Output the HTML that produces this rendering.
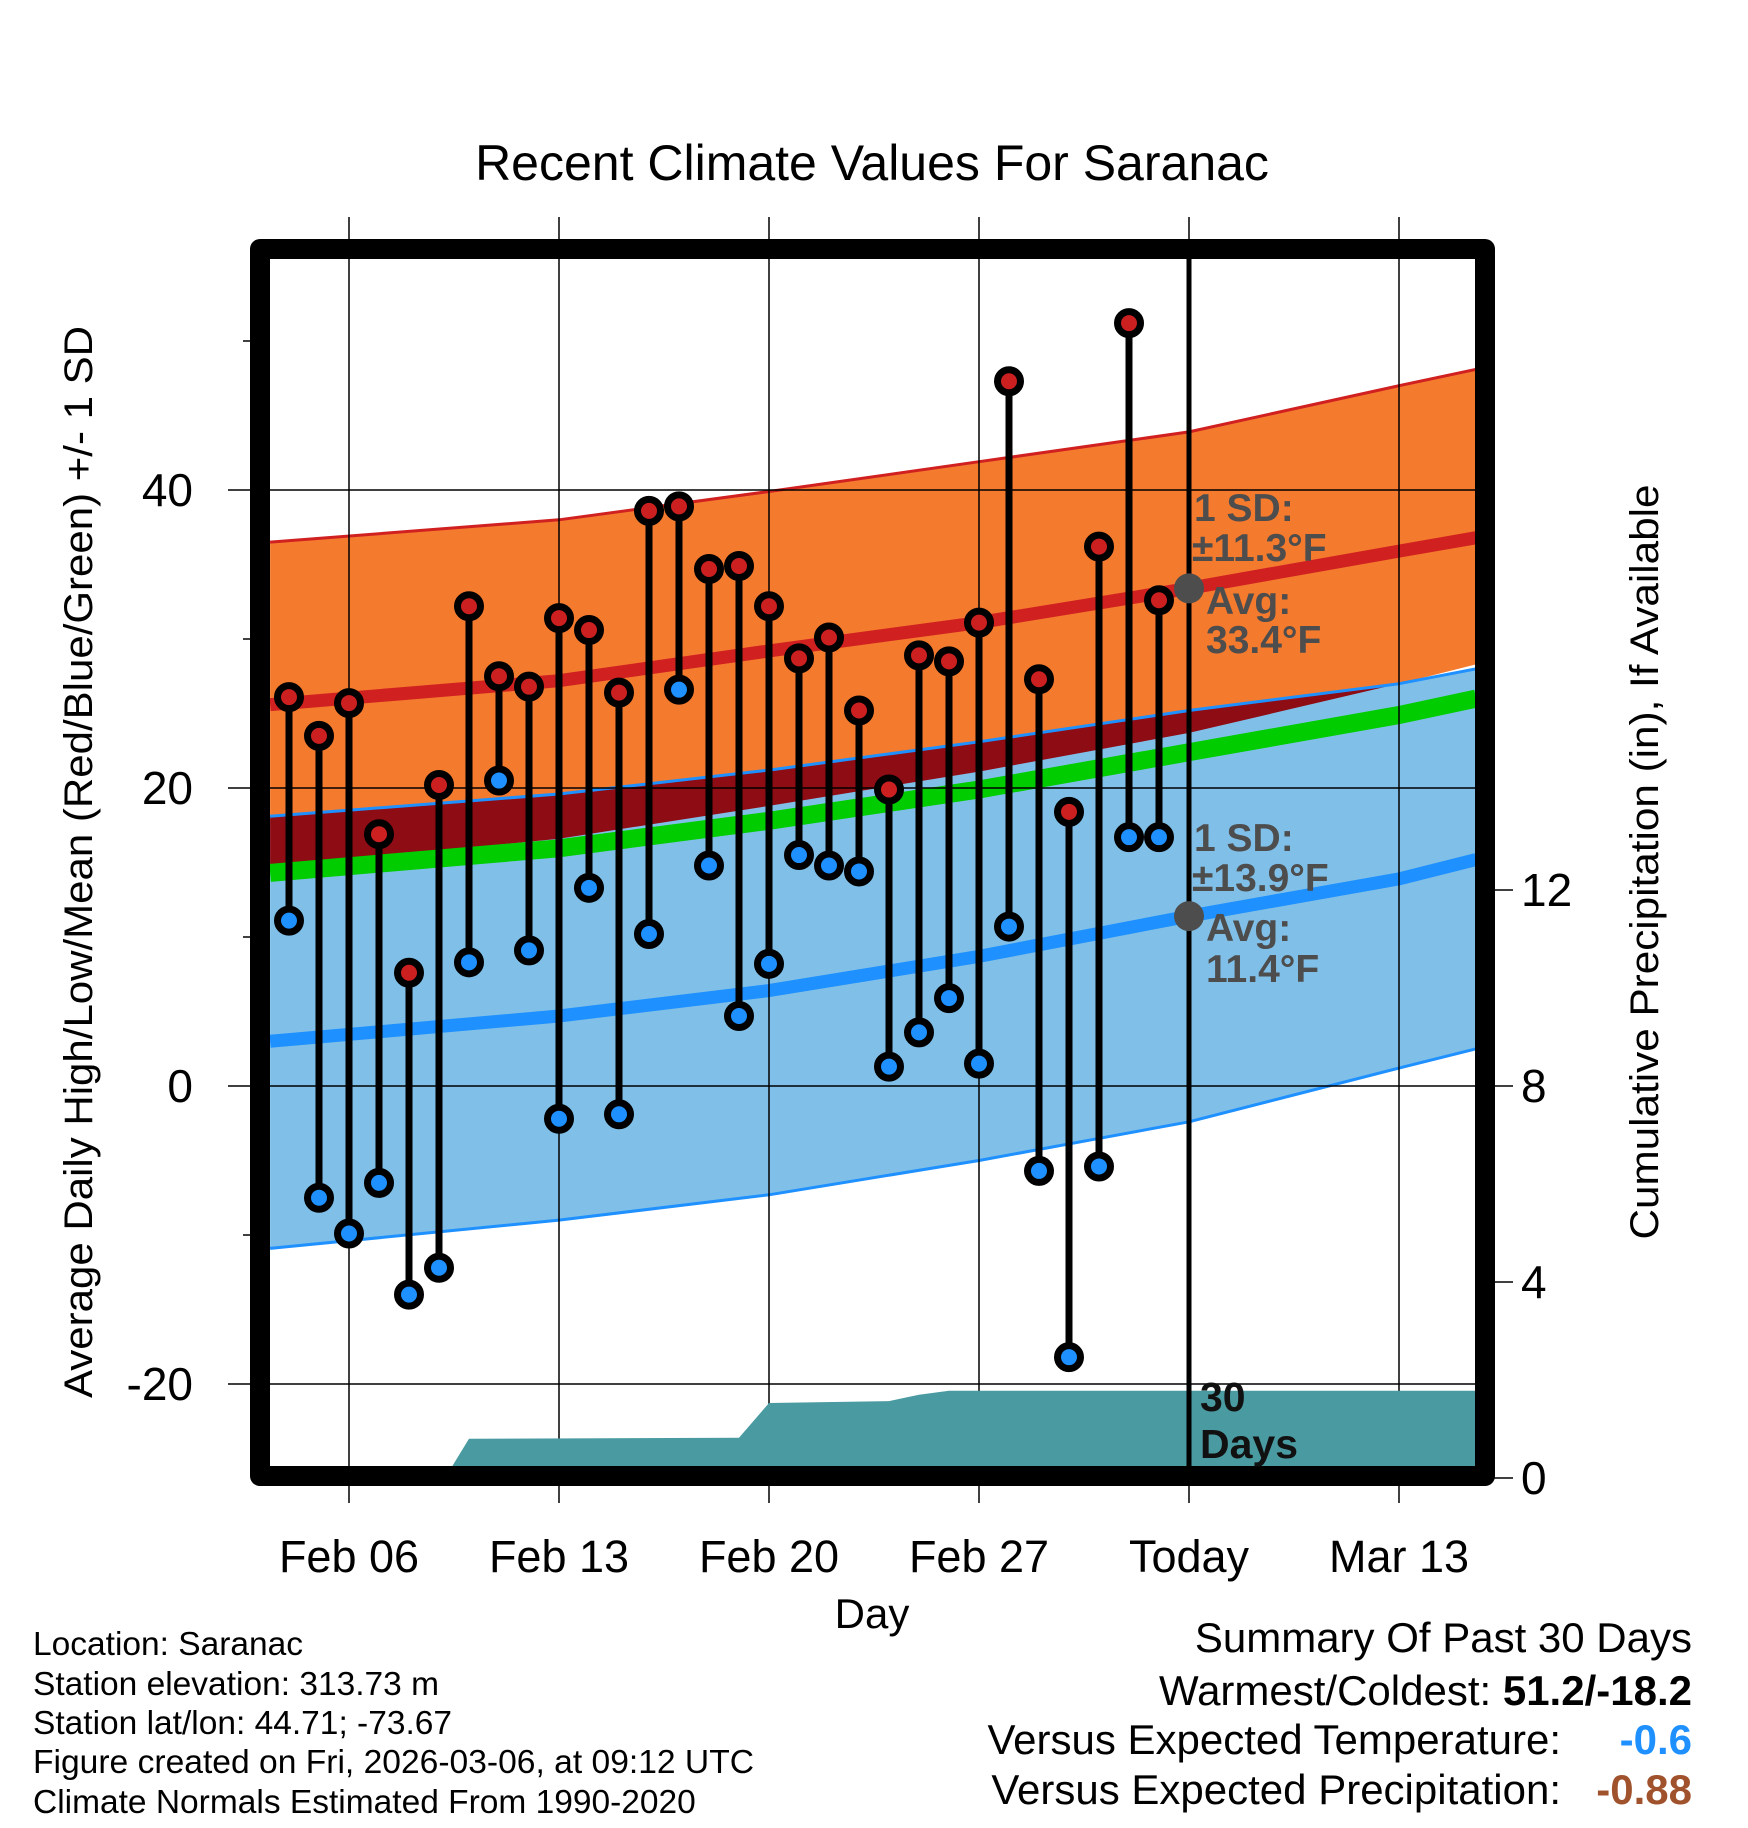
<!DOCTYPE html>
<html><head><meta charset="utf-8"><style>
html,body{margin:0;padding:0;background:#fff}
svg{display:block;font-family:"Liberation Sans",sans-serif}
</style></head><body>
<svg id="chart" width="1748" height="1828" viewBox="0 0 1748 1828">
<defs><clipPath id="plotclip"><rect x="270" y="259" width="1206" height="1208"/></clipPath></defs>
<text x="872" y="180" font-size="50" text-anchor="middle">Recent Climate Values For Saranac</text>
<g id="normals" clip-path="url(#plotclip)"></g>
<g id="grid"></g>
<g id="precip" clip-path="url(#plotclip)"></g>
<g id="marks"></g>
<rect x="260" y="249" width="1225" height="1227" fill="none" stroke="#000" stroke-width="20" stroke-linejoin="round"/>
<g id="axes"></g>
<g font-weight="bold" font-size="39" fill="#4d4d4d">
<text x="1194" y="521">1 SD:</text><text x="1192" y="561">±11.3°F</text>
<text x="1206" y="614">Avg:</text><text x="1206" y="653">33.4°F</text></g>
<g font-weight="bold" font-size="39" fill="#4d4d4d">
<text x="1194" y="851">1 SD:</text><text x="1192" y="891">±13.9°F</text>
<text x="1206" y="941">Avg:</text><text x="1206" y="982">11.4°F</text></g>
<g font-weight="bold" font-size="41" fill="#111">
<text x="1200" y="1411">30</text><text x="1200" y="1458">Days</text></g>
<text x="872" y="1628" font-size="42" text-anchor="middle">Day</text>
<text transform="translate(92,862) rotate(-90)" font-size="40" text-anchor="middle" textLength="1072" lengthAdjust="spacingAndGlyphs">Average Daily High/Low/Mean (Red/Blue/Green) +/- 1 SD</text>
<text transform="translate(1658,862) rotate(-90)" font-size="40" text-anchor="middle" textLength="755" lengthAdjust="spacingAndGlyphs">Cumulative Precipitation (in), If Available</text>
<g font-size="33.5">
<text x="33" y="1655">Location: Saranac</text>
<text x="33" y="1695">Station elevation: 313.73 m</text>
<text x="33" y="1734">Station lat/lon: 44.71; -73.67</text>
<text x="33" y="1773" textLength="721" lengthAdjust="spacingAndGlyphs">Figure created on Fri, 2026-03-06, at 09:12 UTC</text>
<text x="33" y="1813">Climate Normals Estimated From 1990-2020</text></g>
<g font-size="42" text-anchor="end">
<text x="1692" y="1652">Summary Of Past 30 Days</text>
<text x="1692" y="1705">Warmest/Coldest: <tspan font-weight="bold">51.2/-18.2</tspan></text>
<text x="1561" y="1754">Versus Expected Temperature:</text>
<text x="1692" y="1754" font-weight="bold" fill="#1e90ff">-0.6</text>
<text x="1561" y="1804">Versus Expected Precipitation:</text>
<text x="1692" y="1804" font-weight="bold" fill="#a0522d">-0.88</text></g>
</svg>
<script>
// day offsets relative to Feb 06
const normDays=[-2.63,7,14,21,28,35,37.57];
const highUpper=[36.5,38.0,39.9,41.9,43.9,47.0,48.1];
const highAvg=[25.6,27.2,29.2,31.1,33.4,35.9,36.8];
const highLower=[14.7,16.6,18.8,21.1,23.7,27.0,28.3];
const lowUpper=[18.1,19.6,21.2,23.1,25.2,27.0,28.0];
const lowAvg=[3.0,4.7,6.4,8.7,11.4,13.9,15.2];
const lowLower=[-10.9,-9.0,-7.3,-5.0,-2.4,1.2,2.5];
const obsDays=[-2,-1,0,1,2,3,4,5,6,7,8,9,10,11,12,13,14,15,16,17,18,19,20,21,22,23,24,25,26,27];
const highs=[26.1,23.5,25.7,16.9,7.6,20.2,32.2,27.5,26.8,31.4,30.6,26.4,38.6,38.9,34.7,34.9,32.2,28.7,30.1,25.2,19.9,28.9,28.5,31.1,47.3,27.3,18.4,36.2,51.2,32.6];
const lows=[11.1,-7.5,-9.9,-6.5,-14.0,-12.2,8.3,20.5,9.1,-2.2,13.3,-1.9,10.2,26.6,14.8,4.7,8.2,15.5,14.8,14.4,1.3,3.6,5.9,1.5,10.7,-5.7,-18.2,-5.4,16.7,16.7];
const precipDays=[-2.63,3.2,4,13,14,18,19,20,28,37.57];
const precipVals=[0,0,0.80,0.82,1.53,1.57,1.70,1.78,1.78,1.78];
const xTickDays=[0,7,14,21,28,35];
const xTickLabels=["Feb 06","Feb 13","Feb 20","Feb 27","Today","Mar 13"];
const yTicks=[40,20,0,-20];
const yMinor=[50,30,10,-10];
const pTicks=[0,4,8,12];

const NS="http://www.w3.org/2000/svg";
const xS=d=>349+30*d;
const yT=t=>1086-14.9*t;
const yP=p=>1478-49*p;
function mk(tag,attrs,parent){const e=document.createElementNS(NS,tag);for(const k in attrs)e.setAttribute(k,attrs[k]);parent.appendChild(e);return e;}
const line=(xs,ys)=>xs.map((x,i)=>xS(x).toFixed(1)+","+ys[i].toFixed(1)).join(" ");
function band(up,lo){const a=normDays.map((d,i)=>xS(d).toFixed(1)+","+yT(up[i]).toFixed(1));const b=normDays.map((d,i)=>xS(d).toFixed(1)+","+yT(lo[i]).toFixed(1)).reverse();return a.concat(b).join(" ");}

const gN=document.getElementById('normals');
let e;
e=mk('polygon',{points:band(highUpper,highLower),fill:'#f47a2e'},gN);


e=mk('polygon',{points:band(lowUpper,lowLower),fill:'#80c0e8'},gN);


const ovLo=highLower.map((v,i)=>Math.min(v,lowUpper[i]));
e=mk('polygon',{points:band(lowUpper,ovLo),fill:'#8e0c14'},gN);


e=mk('polyline',{points:line(normDays,highUpper.map(yT)),fill:'none',stroke:'#d02020','stroke-width':3},gN);


e=mk('polyline',{points:line(normDays,lowUpper.map(yT)),fill:'none',stroke:'#1e90ff','stroke-width':3},gN);


e=mk('polyline',{points:line(normDays,lowLower.map(yT)),fill:'none',stroke:'#1e90ff','stroke-width':3},gN);


const meanVals=highAvg.map((v,i)=>(v+lowAvg[i])/2);
e=mk('polyline',{points:line(normDays,meanVals.map(yT)),fill:'none',stroke:'#00cc00','stroke-width':18},gN);


e=mk('polyline',{points:line(normDays,highAvg.map(yT)),fill:'none',stroke:'#d02020','stroke-width':13},gN);


e=mk('polyline',{points:line(normDays,lowAvg.map(yT)),fill:'none',stroke:'#1e90ff','stroke-width':13},gN);



const gG=document.getElementById('grid');
xTickDays.forEach(d=>{
  e=mk('line',{x1:xS(d),x2:xS(d),y1:217,y2:1503,stroke:'#000','stroke-width':1.5},gG);
  
  
});
yTicks.forEach(t=>{
  e=mk('line',{x1:228,x2:1476,y1:yT(t),y2:yT(t),stroke:'#000','stroke-width':1.5},gG);
  
  
});

const gP=document.getElementById('precip');
const pPts=precipDays.map((d,i)=>xS(d).toFixed(1)+","+yP(precipVals[i]).toFixed(1));
pPts.push(xS(precipDays[precipDays.length-1]).toFixed(1)+","+yP(0));
pPts.push(xS(precipDays[0]).toFixed(1)+","+yP(0));
e=mk('polygon',{points:pPts.join(" "),fill:'#4a9aa2'},gP);



const gM=document.getElementById('marks');
obsDays.forEach((d,i)=>{
  const x=xS(d);
  e=mk('line',{x1:x,x2:x,y1:yT(highs[i]),y2:yT(lows[i]),stroke:'#000','stroke-width':7},gM);
  
  
});
obsDays.forEach((d,i)=>{
  const x=xS(d);
  e=mk('circle',{cx:x,cy:yT(highs[i]),r:11.5,fill:'#cc2020',stroke:'#000','stroke-width':7},gM);
  
  
  e=mk('circle',{cx:x,cy:yT(lows[i]),r:11.5,fill:'#1e90ff',stroke:'#000','stroke-width':7},gM);
  
  
});
e=mk('line',{x1:xS(28),x2:xS(28),y1:259,y2:1467,stroke:'#000','stroke-width':5},gM);


e=mk('circle',{cx:xS(28),cy:yT(highAvg[4]),r:15,fill:'#4d4d4d'},gM);


e=mk('circle',{cx:xS(28),cy:yT(lowAvg[4]),r:15,fill:'#4d4d4d'},gM);



const gA=document.getElementById('axes');
xTickDays.forEach((d,i)=>{
  e=mk('text',{x:xS(d),y:1572,'font-size':45,'text-anchor':'middle'},gA);
  e.textContent=xTickLabels[i];
  
  
});
yTicks.forEach(t=>{
  e=mk('text',{x:193,y:yT(t)+16,'font-size':46,'text-anchor':'end'},gA);
  e.textContent=String(t);
  
  
});
yMinor.forEach(t=>{
  e=mk('line',{x1:243,x2:252,y1:yT(t),y2:yT(t),stroke:'#000','stroke-width':1.5},gA);
  
  
});
pTicks.forEach(p=>{
  e=mk('line',{x1:1494,x2:1513,y1:yP(p),y2:yP(p),stroke:'#000','stroke-width':1.5},gA);
  
  
  e=mk('text',{x:1521,y:yP(p)+16,'font-size':46},gA);
  e.textContent=String(p);
  
  
});
</script>
</body></html>
